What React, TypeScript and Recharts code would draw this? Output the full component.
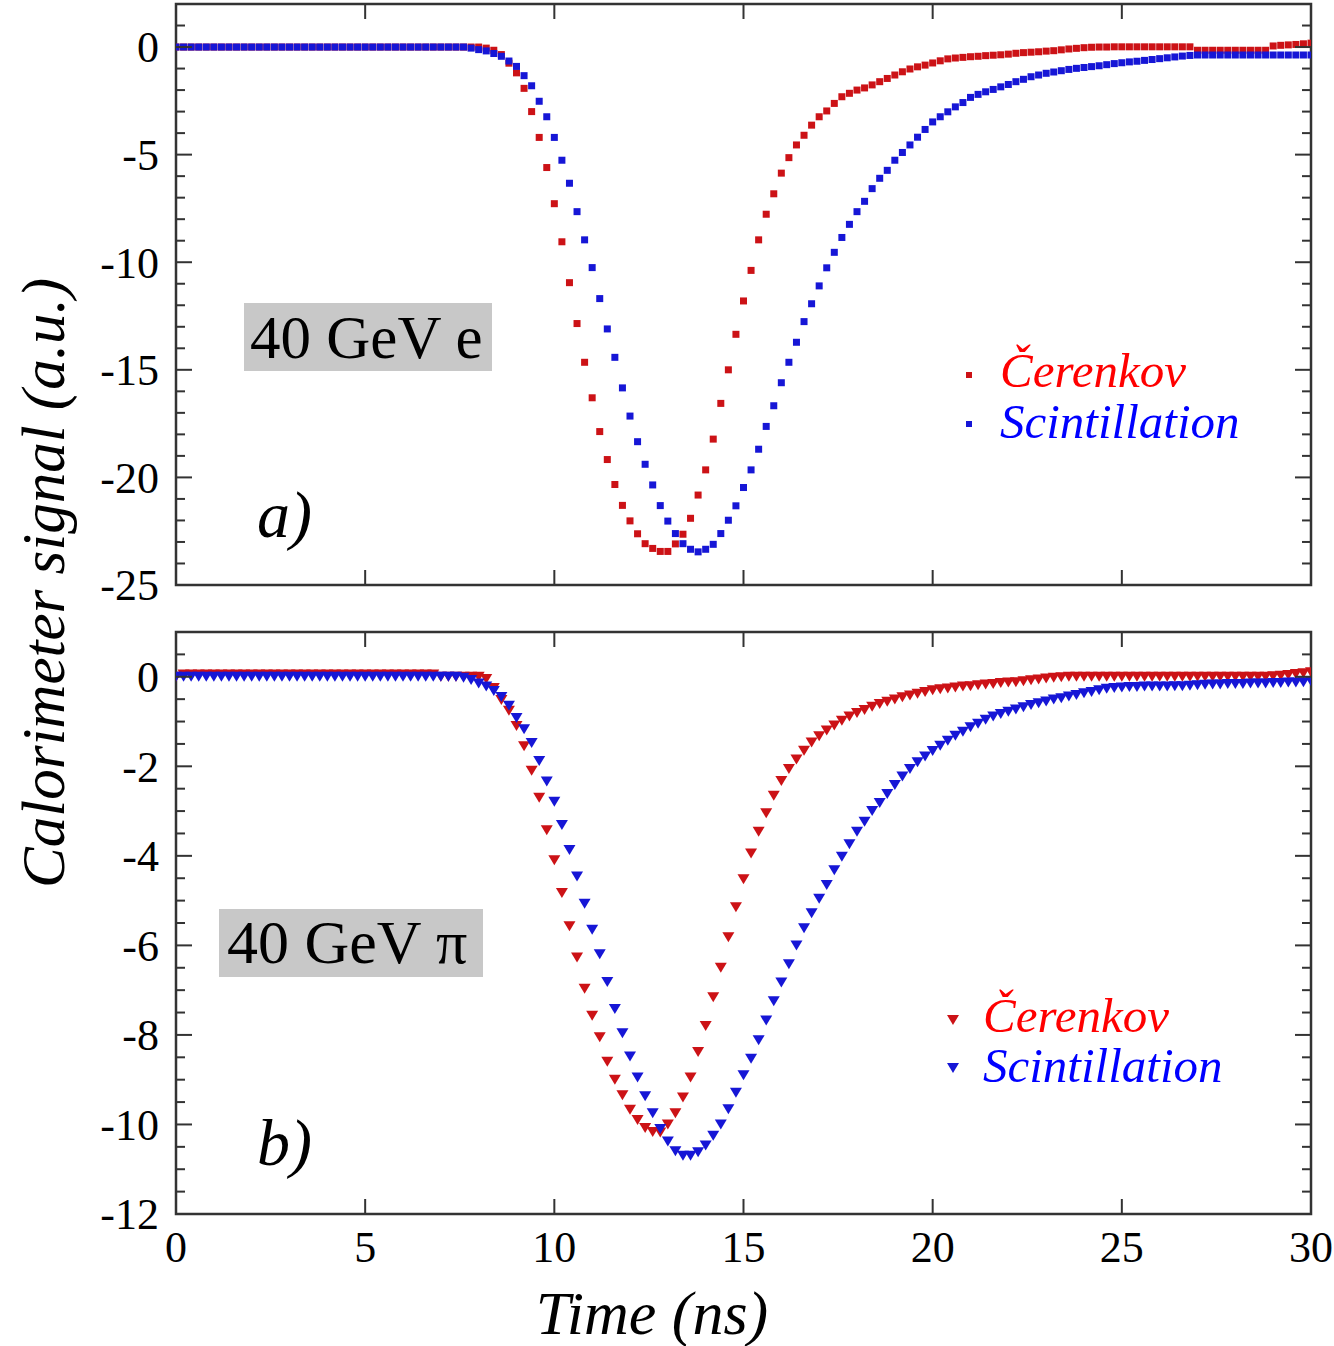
import React from 'react';
import { ScatterChart, Scatter, XAxis, YAxis, ReferenceArea } from 'recharts';

// sampling times (ns), shared by all four series
const times = [
  0, 0.2, 0.4, 0.6, 0.8, 1, 1.2, 1.4, 1.6, 1.8,
  2, 2.2, 2.4, 2.6, 2.8, 3, 3.2, 3.4, 3.6, 3.8,
  4, 4.2, 4.4, 4.6, 4.8, 5, 5.2, 5.4, 5.6, 5.8,
  6, 6.2, 6.4, 6.6, 6.8, 7, 7.2, 7.4, 7.6, 7.8,
  8, 8.2, 8.4, 8.6, 8.8, 9, 9.2, 9.4, 9.6, 9.8,
  10, 10.2, 10.4, 10.6, 10.8, 11, 11.2, 11.4, 11.6, 11.8,
  12, 12.2, 12.4, 12.6, 12.8, 13, 13.2, 13.4, 13.6, 13.8,
  14, 14.2, 14.4, 14.6, 14.8, 15, 15.2, 15.4, 15.6, 15.8,
  16, 16.2, 16.4, 16.6, 16.8, 17, 17.2, 17.4, 17.6, 17.8,
  18, 18.2, 18.4, 18.6, 18.8, 19, 19.2, 19.4, 19.6, 19.8,
  20, 20.2, 20.4, 20.6, 20.8, 21, 21.2, 21.4, 21.6, 21.8,
  22, 22.2, 22.4, 22.6, 22.8, 23, 23.2, 23.4, 23.6, 23.8,
  24, 24.2, 24.4, 24.6, 24.8, 25, 25.2, 25.4, 25.6, 25.8,
  26, 26.2, 26.4, 26.6, 26.8, 27, 27.2, 27.4, 27.6, 27.8,
  28, 28.2, 28.4, 28.6, 28.8, 29, 29.2, 29.4, 29.6, 29.8,
  30,
];

// a) 40 GeV e
const cerenkovE = [
  0, 0, 0, 0, 0, 0, 0, 0, 0, 0,
  0, 0, 0, 0, 0, 0, 0, 0, 0, 0,
  0, 0, 0, 0, 0, 0, 0, 0, 0, 0,
  0, 0, 0, 0, 0, 0, 0, 0, 0, 0,
  0, -0.05, -0.15, -0.35, -0.75, -1.2, -1.92, -3.0, -4.2, -5.6,
  -7.28, -9.05, -10.95, -12.85, -14.65, -16.3, -17.87, -19.17, -20.33, -21.3,
  -22.02, -22.62, -23.08, -23.3, -23.44, -23.44, -23.09, -22.64, -21.9, -20.82,
  -19.65, -18.22, -16.56, -15.0, -13.35, -11.8, -10.38, -8.96, -7.77, -6.82,
  -5.86, -5.14, -4.55, -4.1, -3.63, -3.24, -2.97, -2.62, -2.31, -2.15,
  -2.0, -1.9, -1.76, -1.61, -1.46, -1.3, -1.15, -1.02, -0.92, -0.84,
  -0.74, -0.64, -0.55, -0.51, -0.48, -0.45, -0.43, -0.4, -0.38, -0.36,
  -0.33, -0.29, -0.26, -0.24, -0.22, -0.19, -0.17, -0.13, -0.09, -0.06,
  -0.03, -0.01, 0, 0, 0.01, 0.01, 0.01, 0.01, 0.01, 0.01,
  0.01, 0.01, 0.01, 0.01, 0.01, -0.15, -0.15, -0.15, -0.15, -0.15,
  -0.15, -0.15, -0.15, -0.15, -0.15, 0.05, 0.08, 0.1, 0.12, 0.15,
  0.18,
];
const scintE = [
  0, 0, 0, 0, 0, 0, 0, 0, 0, 0,
  0, 0, 0, 0, 0, 0, 0, 0, 0, 0,
  0, 0, 0, 0, 0, 0, 0, 0, 0, 0,
  0, 0, 0, 0, 0, 0, 0, 0, 0, -0.05,
  -0.12, -0.18, -0.3, -0.43, -0.65, -0.9, -1.33, -1.8, -2.52, -3.24,
  -4.2, -5.26, -6.33, -7.65, -8.96, -10.25, -11.69, -13.1, -14.42, -15.84,
  -17.15, -18.34, -19.39, -20.35, -21.31, -22.03, -22.61, -23.08, -23.34, -23.46,
  -23.34, -23.11, -22.61, -21.99, -21.32, -20.47, -19.65, -18.69, -17.63, -16.67,
  -15.6, -14.65, -13.72, -12.76, -11.93, -11.1, -10.26, -9.54, -8.85, -8.24,
  -7.65, -7.17, -6.58, -6.1, -5.73, -5.26, -4.9, -4.55, -4.19, -3.83,
  -3.48, -3.24, -3.01, -2.78, -2.58, -2.34, -2.2, -2.08, -1.97, -1.85,
  -1.74, -1.61, -1.5, -1.38, -1.3, -1.22, -1.16, -1.1, -1.04, -0.99,
  -0.95, -0.91, -0.87, -0.82, -0.77, -0.73, -0.69, -0.66, -0.62, -0.58,
  -0.54, -0.5, -0.46, -0.42, -0.39, -0.37, -0.37, -0.37, -0.37, -0.37,
  -0.37, -0.37, -0.37, -0.37, -0.37, -0.37, -0.37, -0.37, -0.37, -0.37,
  -0.37,
];

// b) 40 GeV pi
const cerenkovPi = [
  0, 0.05, 0.05, 0.05, 0.05, 0.05, 0.05, 0.05, 0.05, 0.05,
  0.05, 0.05, 0.05, 0.05, 0.05, 0.05, 0.05, 0.05, 0.05, 0.05,
  0.05, 0.05, 0.05, 0.05, 0.05, 0.05, 0.05, 0.05, 0.05, 0.05,
  0.05, 0.05, 0.05, 0.05, 0.05, 0, 0, 0, 0, 0,
  0, -0.05, -0.25, -0.52, -0.76, -1.1, -1.55, -2.1, -2.7, -3.43,
  -4.1, -4.83, -5.57, -6.27, -6.97, -7.57, -8.05, -8.6, -9.0, -9.35,
  -9.67, -9.9, -10.08, -10.17, -10.18, -10.0, -9.75, -9.4, -8.95, -8.38,
  -7.8, -7.16, -6.5, -5.82, -5.15, -4.52, -3.95, -3.46, -3.05, -2.66,
  -2.33, -2.06, -1.85, -1.65, -1.47, -1.33, -1.2, -1.09, -0.98, -0.89,
  -0.81, -0.74, -0.67, -0.61, -0.56, -0.51, -0.46, -0.42, -0.38, -0.34,
  -0.3, -0.28, -0.26, -0.24, -0.22, -0.21, -0.19, -0.17, -0.16, -0.14,
  -0.13, -0.12, -0.1, -0.08, -0.06, -0.04, -0.02, -0.01, 0, 0,
  0, 0, 0, 0, 0, 0, 0, 0, 0, 0,
  0, 0, 0, 0, 0, 0, 0, 0, 0, 0,
  0, 0, 0, 0, 0, 0.01, 0.02, 0.04, 0.06, 0.08,
  0.1,
];
const scintPi = [
  0, 0, 0, 0, 0, 0, 0, 0, 0, 0,
  0, 0, 0, 0, 0, 0, 0, 0, 0, 0,
  0, 0, 0, 0, 0, 0, 0, 0, 0, 0,
  0, 0, 0, 0, 0, 0, 0, 0, -0.02, -0.07,
  -0.15, -0.22, -0.32, -0.45, -0.65, -0.92, -1.17, -1.48, -1.88, -2.34,
  -2.79, -3.31, -3.87, -4.46, -5.07, -5.65, -6.2, -6.82, -7.42, -7.96,
  -8.48, -8.95, -9.37, -9.75, -10.1, -10.38, -10.6, -10.7, -10.7, -10.62,
  -10.47, -10.25, -10.0, -9.66, -9.29, -8.9, -8.53, -8.12, -7.68, -7.25,
  -6.83, -6.42, -6.0, -5.62, -5.28, -4.96, -4.65, -4.32, -4.02, -3.74,
  -3.46, -3.24, -3.0, -2.82, -2.62, -2.42, -2.23, -2.06, -1.91, -1.78,
  -1.66, -1.54, -1.43, -1.32, -1.23, -1.13, -1.05, -0.96, -0.89, -0.83,
  -0.78, -0.73, -0.68, -0.63, -0.59, -0.55, -0.51, -0.48, -0.44, -0.41,
  -0.37, -0.34, -0.3, -0.27, -0.25, -0.24, -0.23, -0.23, -0.22, -0.22,
  -0.22, -0.22, -0.21, -0.21, -0.2, -0.19, -0.18, -0.17, -0.17, -0.16,
  -0.16, -0.16, -0.15, -0.15, -0.15, -0.14, -0.14, -0.13, -0.13, -0.12,
  -0.1,
];

const xTicks = [0, 5, 10, 15, 20, 25, 30];
const yTicksE = [-25, -24, -23, -22, -21, -20, -19, -18, -17, -16, -15, -14, -13, -12, -11, -10, -9, -8, -7, -6, -5, -4, -3, -2, -1, 0, 1];
const yMajorE = [0, -5, -10, -15, -20, -25];
const yTicksPi = [-12, -11.5, -11, -10.5, -10, -9.5, -9, -8.5, -8, -7.5, -7, -6.5, -6, -5.5, -5, -4.5, -4, -3.5, -3, -2.5, -2, -1.5, -1, -0.5, 0, 0.5];
const yMajorPi = [0, -2, -4, -6, -8, -10, -12];

const FONT = '"Liberation Serif", "Times New Roman", Times, "DejaVu Serif", serif';
const FRAME = '#333';
const RED = '#cc1216';
const BLUE = '#1616d6';
const PLOT_W = 1135;
const TICK_FS = 44;

const toPoints = (vals: number[]) => times.map((t, i) => ({ t, v: vals[i] }));

const Square = (color: string) => (props: any) => (
  <rect x={props.cx - 3.5} y={props.cy - 3.5} width={7} height={7} fill={color} />
);
const Triangle = (color: string) => (props: any) => {
  const { cx, cy } = props;
  return <polygon points={`${cx - 6},${cy - 5} ${cx + 6},${cy - 5} ${cx},${cy + 5}`} fill={color} />;
};

const makeYTick = (major: number[]) => (props: any) => {
  const { x, y, payload } = props;
  const isMajor = major.includes(payload.value);
  const len = isMajor ? 16 : 9;
  return (
    <g>
      <line x1={x} y1={y} x2={x + len} y2={y} stroke={FRAME} strokeWidth={2} />
      <line x1={x + PLOT_W} y1={y} x2={x + PLOT_W - len} y2={y} stroke={FRAME} strokeWidth={2} />
      {isMajor && (
        <text x={x - 17} y={y} dy="0.35em" textAnchor="end" style={{ fontFamily: FONT }} fontSize={TICK_FS} fill="#000">
          {payload.value}
        </text>
      )}
    </g>
  );
};

const makeXTick = (plotH: number, showLabel: boolean) => (props: any) => {
  const { x, y, payload } = props;
  return (
    <g>
      <line x1={x} y1={y} x2={x} y2={y - 15} stroke={FRAME} strokeWidth={2} />
      <line x1={x} y1={y - plotH} x2={x} y2={y - plotH + 15} stroke={FRAME} strokeWidth={2} />
      {showLabel && (
        <text x={x} y={y + 48} textAnchor="middle" style={{ fontFamily: FONT }} fontSize={TICK_FS} fill="#000">
          {payload.value}
        </text>
      )}
    </g>
  );
};

function Panel({ top, height, margin, xHeight, plotH, yDomain, yTicks, yMajor, cer, sci, marker, showX }: any) {
  return (
    <div style={{ position: 'absolute', left: 0, top }}>
      <ScatterChart width={1334} height={height} margin={margin}>
        <XAxis
          dataKey="t" type="number" domain={[0, 30]} ticks={xTicks} interval={0}
          allowDataOverflow axisLine={false} tickLine={false} tickSize={0} tickMargin={0}
          height={xHeight} tick={makeXTick(plotH, showX)}
        />
        <YAxis
          dataKey="v" type="number" domain={yDomain} ticks={yTicks} interval={0}
          allowDataOverflow axisLine={false} tickLine={false} tickSize={0} tickMargin={0}
          width={176} tick={makeYTick(yMajor)}
        />
        <ReferenceArea x1={0} x2={30} y1={yDomain[0]} y2={yDomain[1]} fill="none" fillOpacity={0} stroke={FRAME} strokeWidth={2.5} />
        <Scatter data={toPoints(cer)} shape={marker(RED)} isAnimationActive={false} />
        <Scatter data={toPoints(sci)} shape={marker(BLUE)} isAnimationActive={false} />
      </ScatterChart>
    </div>
  );
}

export default function App() {
  return (
    <div style={{ position: 'absolute', left: 0, top: 0, width: 1334, height: 1346, background: '#fff', fontFamily: FONT }}>
      <Panel
        top={0} height={620} margin={{ top: 4, right: 23, bottom: 0, left: 0 }} xHeight={35} plotH={581}
        yDomain={[-25, 2]} yTicks={yTicksE} yMajor={yMajorE}
        cer={cerenkovE} sci={scintE} marker={Square} showX={false}
      />
      <Panel
        top={600} height={746} margin={{ top: 32, right: 23, bottom: 0, left: 0 }} xHeight={132} plotH={582}
        yDomain={[-12, 1]} yTicks={yTicksPi} yMajor={yMajorPi}
        cer={cerenkovPi} sci={scintPi} marker={Triangle} showX={true}
      />
      <div style={{ position: 'absolute', left: 244, top: 303, width: 248, height: 68, background: '#c8c8c8' }} />
      <div style={{ position: 'absolute', left: 219, top: 909, width: 264, height: 68, background: '#c8c8c8' }} />
      <svg width={1334} height={1346} style={{ position: 'absolute', left: 0, top: 0, pointerEvents: 'none', fontFamily: FONT }}>
        <text x={250} y={358} fontSize={61} fill="#000">40 GeV e</text>
        <text x={227} y={963} fontSize={62} fill="#000">40 GeV π</text>
        <text x={257} y={537} fontSize={66} fontStyle="italic" fill="#000">a)</text>
        <text x={257} y={1165} fontSize={66} fontStyle="italic" fill="#000">b)</text>

        <rect x={966} y={372} width={6} height={6} fill={RED} />
        <text x={1000} y={387} fontSize={49} fontStyle="italic" fill="#ff0000">Čerenkov</text>
        <rect x={966} y={421} width={6} height={6} fill={BLUE} />
        <text x={1000} y={438} fontSize={49} fontStyle="italic" fill="#0000ff">Scintillation</text>

        <polygon points="947,1015 959,1015 953,1025" fill={RED} />
        <text x={983} y={1032} fontSize={49} fontStyle="italic" fill="#ff0000">Čerenkov</text>
        <polygon points="947,1063 959,1063 953,1073" fill={BLUE} />
        <text x={983} y={1082} fontSize={49} fontStyle="italic" fill="#0000ff">Scintillation</text>

        <text transform="translate(64, 583) rotate(-90)" textAnchor="middle" fontSize={61} fontStyle="italic" fill="#000">
          Calorimeter signal (a.u.)
        </text>
        <text x={652} y={1334} textAnchor="middle" fontSize={62} fontStyle="italic" fill="#000">Time (ns)</text>
      </svg>
    </div>
  );
}
